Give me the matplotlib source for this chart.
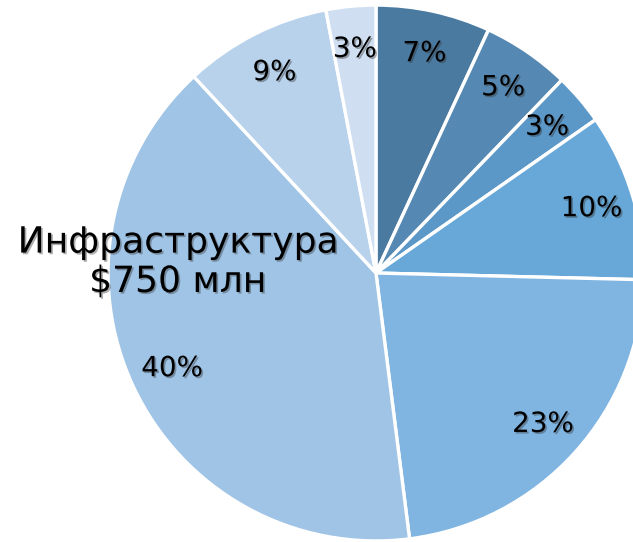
import matplotlib
matplotlib.use('Agg')
import matplotlib.pyplot as plt
import matplotlib.patheffects as pe

# доли бюджета по направлениям, % (по часовой стрелке от 12 часов)
shares = [6.9, 5.3, 3.1, 10.1, 22.6, 40.1, 8.9, 3.0]
colors = ['#4a7aa0', '#5589b3', '#5b98c8', '#67a8d8',
          '#80b4e1', '#a0c4e6', '#b9d2ec', '#cfdff1']
infra_label = 'Инфраструктура\n$750 млн'

plt.rcParams['font.family'] = ['DejaVu Sans']

fig = plt.figure(figsize=(6.33, 5.42), dpi=100)
ax = fig.add_axes([0, 0, 1, 1])

shadow = [pe.SimplePatchShadow(offset=(1.2, -1.2), shadow_rgbFace='#333333', alpha=0.4),
          pe.Normal()]

wedges, texts, autotexts = ax.pie(
    shares, colors=colors, startangle=90, counterclock=False,
    autopct='%.0f%%', pctdistance=0.84,
    wedgeprops=dict(edgecolor='white', linewidth=2.4),
    textprops=dict(fontsize=20, color='black'))

for t in autotexts:
    t.set_path_effects(shadow)

ax.text(-0.74, 0.04, infra_label, ha='center', va='center', fontsize=26,
        linespacing=1.2, path_effects=shadow)

ax.set_xlim(-1.403, 0.959)
ax.set_ylim(-1.004, 1.019)
ax.set_aspect('equal')
ax.axis('off')

fig.savefig('out.png', dpi=100)
